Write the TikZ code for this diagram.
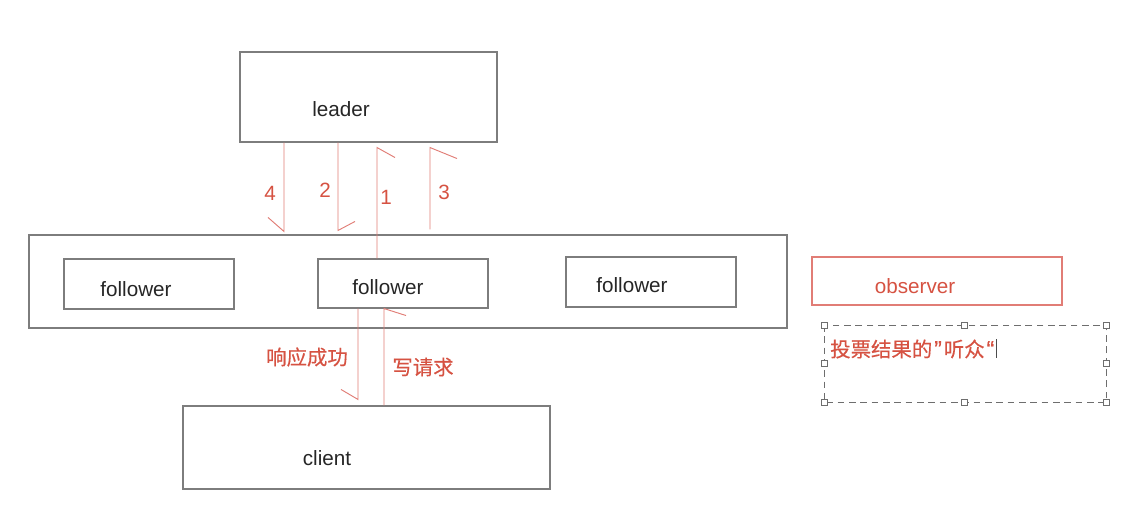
\documentclass[tikz,border=0pt]{standalone}
\usepackage{fontspec}
\setmainfont{Liberation Sans}
\newfontfamily\cjk{Noto Sans CJK SC}[FakeBold=0.3]
\newfontfamily\quotefont{Liberation Sans}[FakeBold=0.5]
\definecolor{boxgray}{RGB}{125,125,125}
\definecolor{txtred}{RGB}{214,82,66}
\definecolor{linered}{RGB}{225,125,118}
\definecolor{dashgray}{RGB}{110,110,110}
\begin{document}
\begin{tikzpicture}[x=0.75pt,y=-0.75pt,
  box/.style={draw=boxgray,line width=0.8pt,rectangle,inner sep=0pt},
  lbl/.style={font=\fontsize{15.5}{18}\selectfont,text=black!85,inner sep=0pt},
  redlbl/.style={font=\fontsize{15.5}{18}\selectfont,text=txtred,inner sep=0pt},
  cjklbl/.style={font=\cjk\fontsize{15.3}{18}\selectfont,text=txtred,inner sep=0pt},
  msg/.style={draw=linered,line width=0.7pt,line join=miter},
  handle/.style={draw=dashgray,fill=white,line width=0.5pt,minimum size=4.5pt,inner sep=0pt,rectangle}
]
\useasboundingbox (0,0) rectangle (1137,524);
\fill[white] (0,0) rectangle (1137,524);

% boxes
\node[box,minimum width=257*0.75pt,minimum height=90*0.75pt] (leader) at (368.5,97) {};
\node[box,minimum width=758*0.75pt,minimum height=93*0.75pt] (outer) at (408,281.5) {};
\node[box,minimum width=170*0.75pt,minimum height=50*0.75pt] (f1) at (149,284) {};
\node[box,minimum width=170*0.75pt,minimum height=49*0.75pt] (f2) at (403,283.5) {};
\node[box,minimum width=170*0.75pt,minimum height=50*0.75pt] (f3) at (651,282) {};
\node[draw=linered,line width=0.8pt,rectangle,inner sep=0pt,minimum width=250*0.75pt,minimum height=48*0.75pt] (obs) at (937,281) {};
\node[box,minimum width=367*0.75pt,minimum height=83*0.75pt] (client) at (366.5,447.5) {};

% box texts
\node[lbl] (tleader) at (341,109) {leader};
\node[lbl] (tf1) at (136,289) {follower};
\node[lbl] (tf2) at (388,287) {follower};
\node[lbl] (tf3) at (632,285) {follower};
\node[redlbl] (tobs) at (915,286) {observer};
\node[lbl] (tclient) at (327,458) {client};

% leader <-> followers
\draw[msg] (leader.south -| 284,0) -- ([yshift=2.25pt]outer.north -| 284,0) -- ++(-16,-14);
\draw[msg] (leader.south -| 338,0) -- ([yshift=3pt]outer.north -| 338,0) -- ++(17,-9);
\draw[msg] (f2.north -| 377,0) -- ([yshift=-3.75pt]leader.south -| 377,0) -- ++(18,10);
\draw[msg] ([yshift=3.75pt]outer.north -| 430,0) -- ([yshift=-3.75pt]leader.south -| 430,0) -- ++(27,11);

\node[redlbl] (n4) at (270,193) {4};
\node[redlbl] (n2) at (325,190) {2};
\node[redlbl] (n1) at (386,197) {1};
\node[redlbl] (n3) at (444,192) {3};

% follower <-> client
\draw[msg] (f2.south -| 358,0) -- ([yshift=4.5pt]client.north -| 358,0) -- ++(-17,-10);
\draw[msg] (client.north -| 384,0) -- (f2.south -| 384,0) -- ++(22,7);

\node[cjklbl] (resp) at (307,357) {响应成功};
\node[cjklbl] (req) at (423,367) {写请求};

% selection box with annotation
\coordinate (s1) at (824,325);
\coordinate (s2) at (1106,402);
\draw[dashgray,line width=0.6pt,dash pattern=on 5pt off 3.5pt] (s1) rectangle (s2);
\foreach \p/\q in {824/325,964/325,1106/325,824/363,1106/363,824/402,964/402,1106/402}
  \node[handle] at (\p,\q) {};
\node[cjklbl,anchor=west] (note) at (830,349) {投票结果的\kern1.5pt{\quotefont\fontsize{17}{18}\selectfont”}\kern1.5pt听众\kern1.5pt{\quotefont\fontsize{17}{18}\selectfont“}};
\draw[black!70,line width=1.2pt] ([xshift=1.5pt]note.east |- 0,339) -- ([xshift=1.5pt]note.east |- 0,358);
\end{tikzpicture}
\end{document}
